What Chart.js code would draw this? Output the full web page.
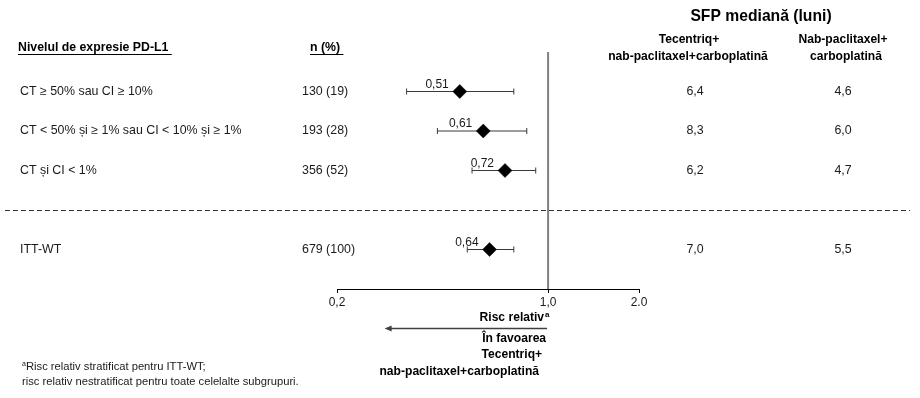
<!DOCTYPE html>
<html>
<head>
<meta charset="utf-8">
<script src="https://cdn.jsdelivr.net/npm/chart.js@4/dist/chart.umd.min.js"></script>
<style>
  html, body { margin: 0; padding: 0; background: #fff; }
  canvas { display: block; }
</style>
</head>
<body>
<canvas id="c" width="920" height="398"></canvas>
<script>
// ---- data ----
const subgroups = ['CT ≥ 50% sau CI ≥ 10%', 'CT < 50% și ≥ 1% sau CI < 10% și ≥ 1%', 'CT și CI < 1%', 'ITT-WT'];
const nPct = ['130 (19)', '193 (28)', '356 (52)', '679 (100)'];
const hazardRatio = [0.51, 0.61, 0.72, 0.64];
const hrLabels = ['0,51', '0,61', '0,72', '0,64'];
const ciLow = [0.34, 0.43, 0.56, 0.54];
const ciHigh = [0.77, 0.85, 0.91, 0.77];
const pfsAtezo = ['6,4', '8,3', '6,2', '7,0'];
const pfsControl = ['4,6', '6,0', '4,7', '5,5'];
const rowPos = [1, 2, 3, 5];
const separatorRow = 4;
const xTicks = [0.2, 1, 2];
const xTickLabels = ['0,2', '1,0', '2.0'];
const refValue = 1;

const FONT = '"Liberation Sans", Arial, sans-serif';

const whiskerSets = subgroups.map((s, i) => ({
  type: 'line',
  data: [{x: ciLow[i], y: rowPos[i]}, {x: ciHigh[i], y: rowPos[i]}],
  borderColor: '#3a3a3a',
  borderWidth: 1,
  pointStyle: 'line',
  pointRotation: 90,
  pointRadius: 3,
  pointBorderColor: '#3a3a3a',
  pointBorderWidth: 1,
  showLine: true,
  order: 1
}));

const datasets = [
  {
    type: 'scatter',
    data: hazardRatio.map((v, i) => ({x: v, y: rowPos[i]})),
    pointStyle: 'rectRot',
    pointRadius: 7,
    backgroundColor: '#000',
    borderColor: '#000',
    borderWidth: 0.5,
    order: 0
  },
  ...whiskerSets,
  {
    type: 'line',
    data: [{x: refValue, y: 0}, {x: refValue, y: 6}],
    borderColor: '#808080',
    borderWidth: 2,
    pointRadius: 0,
    showLine: true,
    order: 2
  }
];

const textPlugin = {
  id: 'forestText',
  afterDraw(chart) {
    const ctx = chart.ctx;
    const xs = chart.scales.x, ys = chart.scales.y;
    ctx.save();
    ctx.textBaseline = 'middle';

    // dashed separator
    const ySep = Math.round(ys.getPixelForValue(separatorRow)) + 0.5;
    ctx.strokeStyle = '#333';
    ctx.lineWidth = 1;
    ctx.setLineDash([5, 3]);
    ctx.beginPath();
    ctx.moveTo(5, ySep);
    ctx.lineTo(910, ySep);
    ctx.stroke();
    ctx.setLineDash([]);

    // column headers
    const underline = (txt, x, y) => {
      ctx.fillText(txt, x, y);
      const w = ctx.measureText(txt + ' ').width;
      ctx.beginPath();
      ctx.moveTo(x, y + 6.5);
      ctx.lineTo(x + w, y + 6.5);
      ctx.strokeStyle = '#000';
      ctx.lineWidth = 1;
      ctx.stroke();
    };
    ctx.fillStyle = '#000';
    ctx.font = 'bold 12.3px ' + FONT;
    ctx.textAlign = 'left';
    underline('Nivelul de expresie PD-L1', 18, 48);
    underline('n (%)', 310, 48);

    ctx.textAlign = 'center';
    ctx.font = 'bold 15.7px ' + FONT;
    ctx.fillText('SFP mediană (luni)', 761, 17);
    ctx.font = 'bold 12.1px ' + FONT;
    ctx.fillText('Tecentriq+', 689, 40);
    ctx.fillText('nab-paclitaxel+carboplatină', 688, 57);
    ctx.fillText('Nab-paclitaxel+', 843, 40);
    ctx.fillText('carboplatină', 846, 57);

    // rows
    ctx.font = '12.4px ' + FONT;
    ctx.fillStyle = '#1a1a1a';
    subgroups.forEach((s, i) => {
      const y = ys.getPixelForValue(rowPos[i]);
      ctx.textAlign = 'left';
      ctx.fillText(s, 20, y);
      ctx.fillText(nPct[i], 302, y);
      ctx.textAlign = 'center';
      ctx.fillText(pfsAtezo[i], 695, y);
      ctx.fillText(pfsControl[i], 843, y);
    });

    // HR labels
    ctx.font = '12px ' + FONT;
    ctx.textAlign = 'right';
    ctx.textBaseline = 'alphabetic';
    hazardRatio.forEach((v, i) => {
      const x = xs.getPixelForValue(v);
      const y = ys.getPixelForValue(rowPos[i]);
      ctx.fillText(hrLabels[i], x - 11, y - 4);
    });
    ctx.textBaseline = 'middle';

    // axis title and arrow
    const x1 = xs.getPixelForValue(refValue);
    const axisY = chart.chartArea.bottom;
    ctx.fillStyle = '#000';
    ctx.font = 'bold 12.1px ' + FONT;
    ctx.textAlign = 'right';
    ctx.fillText('Risc relativ', x1 - 4, axisY + 29);
    ctx.font = 'bold 8px ' + FONT;
    ctx.textAlign = 'left';
    ctx.fillText('a', x1 - 3, axisY + 26);

    const arrowY = axisY + 39.5;
    const arrowEnd = xs.getPixelForValue(0.2875);
    ctx.strokeStyle = '#404040';
    ctx.fillStyle = '#404040';
    ctx.lineWidth = 1.6;
    ctx.beginPath();
    ctx.moveTo(x1 - 1, arrowY);
    ctx.lineTo(arrowEnd + 4, arrowY);
    ctx.stroke();
    ctx.beginPath();
    ctx.moveTo(arrowEnd, arrowY);
    ctx.lineTo(arrowEnd + 7, arrowY - 3);
    ctx.lineTo(arrowEnd + 7, arrowY + 3);
    ctx.closePath();
    ctx.fill();

    ctx.fillStyle = '#000';
    ctx.font = 'bold 12.1px ' + FONT;
    ctx.textAlign = 'right';
    ctx.fillText('În favoarea', x1 - 2, axisY + 50);
    ctx.fillText('Tecentriq+', x1 - 6, axisY + 66);
    ctx.fillText('nab-paclitaxel+carboplatină', x1 - 9, axisY + 83);

    // footnote
    ctx.fillStyle = '#1a1a1a';
    ctx.textAlign = 'left';
    ctx.font = '7px ' + FONT;
    ctx.fillText('a', 22, 364);
    ctx.font = '11.2px ' + FONT;
    ctx.fillText('Risc relativ stratificat pentru ITT-WT;', 26, 367);
    ctx.fillText('risc relativ nestratificat pentru toate celelalte subgrupuri.', 22, 382);

    ctx.restore();
  }
};

new Chart(document.getElementById('c'), {
  data: { datasets },
  options: {
    responsive: false,
    devicePixelRatio: 1,
    animation: false,
    layout: { padding: { left: 337, right: 281, top: 52, bottom: 89 } },
    plugins: { legend: { display: false }, tooltip: { enabled: false } },
    elements: { line: { tension: 0 } },
    scales: {
      x: {
        type: 'logarithmic',
        min: 0.2,
        max: 2,
        afterBuildTicks: (s) => { s.ticks = xTicks.map(v => ({value: v})); },
        afterFit: (s) => { s.height = 20; },
        ticks: {
          autoSkip: false,
          maxRotation: 0,
          padding: 2,
          color: '#1a1a1a',
          font: { family: FONT, size: 12 },
          callback: (v) => { const i = xTicks.indexOf(v); return i >= 0 ? xTickLabels[i] : ''; }
        },
        grid: { drawOnChartArea: false, drawTicks: true, tickLength: 4, color: '#000', lineWidth: 1 },
        border: { display: true, color: '#000', width: 1 }
      },
      y: {
        type: 'linear',
        reverse: true,
        min: 0,
        max: 6,
        display: false
      }
    }
  },
  plugins: [textPlugin]
});
</script>
</body>
</html>
